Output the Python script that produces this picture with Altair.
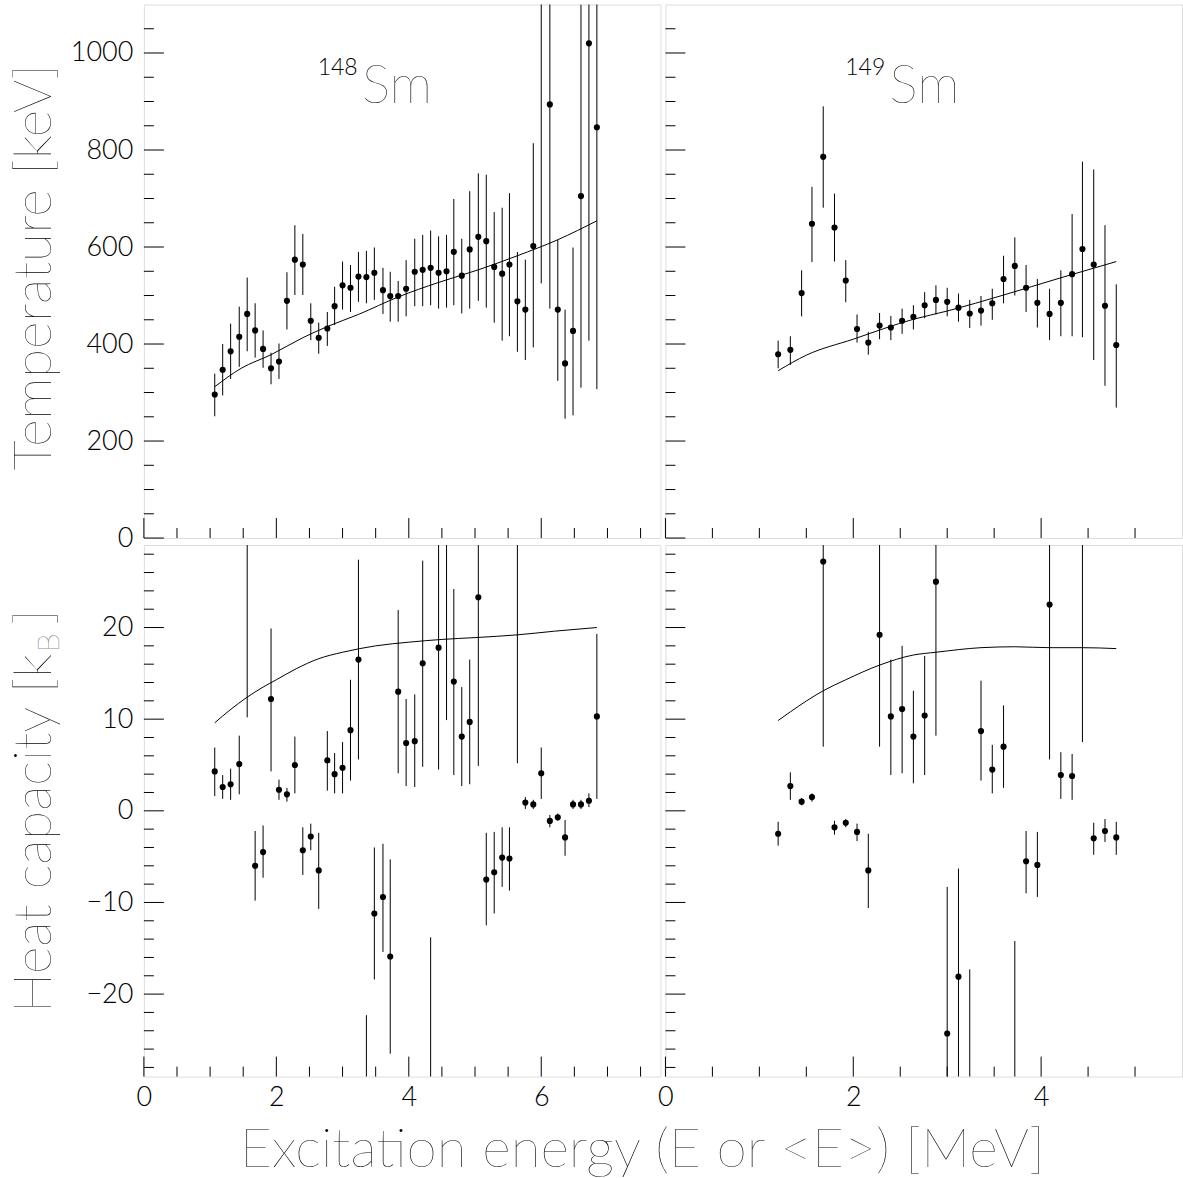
import altair as alt
import pandas as pd

FONT = "Lato"

# ---------------- data: 148Sm ----------------
E148 = [1.07, 1.19, 1.31, 1.44, 1.56, 1.68, 1.80, 1.92, 2.04, 2.16, 2.28, 2.40, 2.52, 2.64,
        2.77, 2.88, 3.00, 3.12, 3.24, 3.36, 3.48, 3.61, 3.72, 3.84, 3.96, 4.09, 4.21, 4.33,
        4.45, 4.57, 4.68, 4.80, 4.92, 5.05, 5.17, 5.29, 5.41, 5.52, 5.64, 5.76, 5.88, 6.00,
        6.13, 6.25, 6.36, 6.48, 6.60, 6.72, 6.84]
T148 = [296, 347, 385, 415, 462, 428, 390, 350, 364, 489, 574, 564, 448, 413, 432, 478, 521,
        516, 539, 538, 547, 511, 499, 499, 514, 549, 553, 557, 547, 550, 590, 541, 595, 621,
        612, 559, 545, 564, 488, 471, 602, 1200, 894, 471, 360, 427, 705, 1020, 847]
T148_LO = [251, 294, 328, 353, 385, 372, 351, 317, 328, 430, 501, 501, 408, 380, 396, 439, 471,
           466, 487, 484, 491, 462, 446, 446, 457, 478, 478, 480, 473, 475, 480, 463, 473, 489,
           475, 444, 407, 416, 384, 367, 393, 525, 473, 324, 246, 253, 310, 407, 307]
T148_HI = [339, 400, 442, 477, 537, 484, 428, 382, 401, 548, 645, 627, 484, 444, 466, 518, 570,
           563, 590, 592, 599, 557, 549, 530, 573, 617, 625, 634, 622, 625, 699, 617, 715, 752,
           749, 672, 681, 711, 590, 574, 814, 1875, 1315, 615, 471, 599, 1100, 1633, 1387]
FIT_T148_E = [1.07, 1.47, 1.92, 2.40, 2.77, 3.24, 3.84, 4.45, 5.05, 5.64, 6.25, 6.84]
FIT_T148 = [312, 350, 378, 413, 436, 461, 497, 527, 553, 582, 615, 654]

C148 = [4.3, 2.6, 2.9, 5.1, 40, -6.0, -4.5, 12.2, 2.3, 1.8, 5.0, -4.3, -2.8, -6.5, 5.5, 4.0,
        4.7, 8.8, 16.5, -45, -11.2, -9.4, -15.9, 13.0, 7.4, 7.6, 16.1, -40, 17.8, 40, 14.1,
        8.1, 9.7, 23.3, -7.5, -6.7, -5.1, -5.2, 40, 0.9, 0.7, 4.1, -1.1, -0.7, -2.9, 0.7, 0.7,
        1.1, 10.3]
C148_LO = [1.6, 1.3, 1.2, 1.8, 10.2, -9.8, -7.3, 4.3, 1.2, 1.0, 1.9, -7.0, -4.3, -10.7, 2.2,
           1.9, 1.9, 3.3, 5.6, -67.7, -18.4, -15.4, -26.5, 4.1, 2.7, 2.6, 4.8, -66.2, 4.5, 9.9,
           3.9, 2.7, 2.9, 4.9, -12.5, -11.2, -8.3, -8.7, 5.2, 0.2, 0.2, 1.3, -1.8, -1.1, -4.9,
           0.2, 0.2, 0.4, 1.3]
C148_HI = [6.9, 3.9, 4.6, 8.2, 69.8, -2.2, -1.6, 19.9, 3.4, 2.5, 8.1, -1.8, -1.4, -2.4, 8.7,
           6.3, 7.5, 14.3, 27.4, -22.3, -4.0, -3.6, -5.3, 21.9, 12.2, 12.7, 27.3, -13.8, 31.1,
           70.1, 24.2, 13.5, 16.5, 41.7, -2.4, -2.3, -1.8, -1.8, 74.8, 1.5, 1.2, 6.9, -0.45,
           -0.3, -1.0, 1.2, 1.2, 1.9, 19.3]
FIT_C148_E = [1.07, 1.30, 1.56, 1.80, 2.00, 2.30, 2.64, 3.00, 3.50, 4.00, 4.50, 5.00, 5.64,
              6.20, 6.84]
FIT_C148 = [9.6, 11.0, 12.4, 13.5, 14.3, 15.5, 16.6, 17.3, 18.0, 18.4, 18.7, 18.9, 19.2,
            19.6, 20.0]

# ---------------- data: 149Sm ----------------
E149 = [1.20, 1.33, 1.45, 1.56, 1.68, 1.80, 1.92, 2.04, 2.16, 2.28, 2.40, 2.52, 2.64, 2.76,
        2.88, 3.00, 3.12, 3.24, 3.36, 3.48, 3.60, 3.72, 3.84, 3.96, 4.09, 4.21, 4.33, 4.44,
        4.56, 4.68, 4.80]
T149 = [379, 388, 505, 648, 786, 640, 531, 431, 403, 438, 434, 448, 456, 480, 491, 487, 475,
        463, 469, 484, 534, 561, 516, 485, 462, 485, 544, 596, 564, 479, 398]
T149_LO = [350, 357, 457, 569, 681, 570, 486, 403, 378, 410, 408, 421, 430, 453, 461, 457, 446,
           433, 438, 450, 484, 500, 466, 434, 408, 416, 416, 414, 367, 314, 269]
T149_HI = [407, 416, 552, 724, 890, 710, 573, 461, 425, 464, 458, 473, 480, 507, 521, 516, 504,
           491, 499, 514, 582, 620, 563, 534, 514, 552, 668, 776, 760, 645, 523]
FIT_T149_E = [1.20, 1.50, 2.00, 2.64, 3.00, 3.60, 4.20, 4.80]
FIT_T149 = [345, 377, 410, 451, 468, 501, 536, 570]

C149 = [-2.5, 2.7, 1.0, 1.5, 27.2, -1.8, -1.3, -2.3, -6.5, 19.2, 10.3, 11.1, 8.1, 10.4, 25.0,
        -24.3, -18.1, -40, 8.7, 4.5, 7.0, -40, -5.5, -5.9, 22.5, 3.9, 3.8, 40, -3.0, -2.2, -2.9]
C149_LO = [-3.8, 1.2, 0.6, 1.0, 7.0, -2.6, -1.8, -3.3, -10.6, 7.0, 3.9, 4.1, 3.0, 3.9, 8.2,
           -40.3, -29.9, -62.7, 3.3, 1.9, 2.5, -65.8, -9.0, -9.4, 5.6, 1.3, 1.2, 7.5, -4.8, -3.4,
           -4.8]
C149_HI = [-1.2, 4.2, 1.4, 1.9, 47.4, -1.1, -0.9, -1.4, -2.5, 31.4, 16.5, 18.0, 13.1, 16.9, 41.8,
           -8.3, -6.3, -17.3, 14.2, 7.2, 11.5, -14.2, -2.2, -2.3, 39.4, 6.4, 6.2, 72.5, -1.3,
           -0.9, -1.2]
FIT_C149_E = [1.20, 1.33, 1.68, 1.92, 2.28, 2.64, 2.88, 3.36, 3.72, 4.09, 4.44, 4.80]
FIT_C149 = [9.85, 10.8, 13.1, 14.3, 15.9, 17.0, 17.3, 17.8, 17.9, 17.8, 17.8, 17.7]

# ---------------- ticks & labels ----------------
E_MAJ_L = [0, 2, 4, 6]
E_MIN_L = [0.5, 1, 1.5, 2.5, 3, 3.5, 4.5, 5, 5.5, 6.5, 7, 7.5]
E_MAJ_R = [0, 2, 4]
E_MIN_R = [0.5, 1, 1.5, 2.5, 3, 3.5, 4.5, 5]
T_MAJ = [0, 200, 400, 600, 800, 1000]
T_MIN = [50, 100, 150, 250, 300, 350, 450, 500, 550, 650, 700, 750, 850, 900, 950, 1050]
C_MAJ = [-20, -10, 0, 10, 20]
C_MIN = [-28, -26, -24, -22, -18, -16, -14, -12, -8, -6, -4, -2, 2, 4, 6, 8, 12, 14, 16, 18,
         22, 24, 26, 28]

MASS = ["148", "149"]
ELEMENT = "Sm"
Y_TITLE_TOP = "Temperature [keV]"
Y_TITLE_BOT = ["Heat capacity [k", "B", "]"]
X_TITLE = "Excitation energy (E or <E>) [MeV]"


def label_axis(values, orient):
    return alt.Axis(values=values, format="d", ticks=False, tickSize=0, domain=False,
                    grid=False, labelFont=FONT, labelFontSize=27, labelFontWeight=300,
                    labelColor="black", labelPadding=11 if orient == "left" else 8,
                    labelOverlap=False, labelFlush=False, title=None)


def txt(s, size, weight, x, y, align="left", angle=0):
    kw = dict(font=FONT, fontSize=size, fontWeight=weight, align=align,
              baseline="alphabetic", color="black")
    if angle:
        kw["angle"] = angle
    return alt.Chart(pd.DataFrame({"t": [s]})).mark_text(**kw).encode(
        x=alt.value(x), y=alt.value(y), text="t:N")


def panel(E, V, LO, HI, FE, FV, xdom, ydom, w, h, xmaj, xmin, ymaj, ymin,
          xlab, ylab, extras):
    xs = alt.Scale(domain=xdom, nice=False, zero=False)
    ys = alt.Scale(domain=ydom, nice=False, zero=False)
    xaxis = label_axis(xmaj, "bottom") if xlab else None
    yaxis = label_axis(ymaj, "left") if ylab else None

    def X(f):
        return alt.X(f, type="quantitative", scale=xs, axis=xaxis)

    def Y(f):
        return alt.Y(f, type="quantitative", scale=ys, axis=yaxis)

    pts = pd.DataFrame({"E": E, "v": V, "lo": LO, "hi": HI})
    fit = pd.DataFrame({"E": FE, "v": FV})
    bars = alt.Chart(pts).mark_rule(color="black", strokeWidth=1, clip=True).encode(
        x=X("E"), y=Y("lo"), y2="hi")
    dots = alt.Chart(pts).mark_circle(color="black", size=38, opacity=1, clip=True).encode(
        x=X("E"), y=Y("v"))
    line = alt.Chart(fit).mark_line(color="black", strokeWidth=1, interpolate="monotone",
                                    clip=True).encode(x=X("E"), y=Y("v"))
    ty1 = alt.Chart(pd.DataFrame({"t": ymaj})).mark_rule(color="black", strokeWidth=1).encode(
        y=Y("t"), x=alt.value(0), x2=alt.value(20))
    ty2 = alt.Chart(pd.DataFrame({"t": ymin})).mark_rule(color="black", strokeWidth=1).encode(
        y=Y("t"), x=alt.value(0), x2=alt.value(10))
    tx1 = alt.Chart(pd.DataFrame({"t": xmaj})).mark_rule(color="black", strokeWidth=1).encode(
        x=X("t"), y=alt.value(h), y2=alt.value(h - 20))
    tx2 = alt.Chart(pd.DataFrame({"t": xmin})).mark_rule(color="black", strokeWidth=1).encode(
        x=X("t"), y=alt.value(h), y2=alt.value(h - 10))
    return alt.layer(bars, dots, line, ty1, ty2, tx1, tx2, *extras).properties(
        width=w, height=h)


TL = panel(E148, T148, T148_LO, T148_HI, FIT_T148_E, FIT_T148, [0, 7.8], [0, 1100], 517, 534,
           E_MAJ_L, E_MIN_L, T_MAJ, T_MIN, False, True,
           [txt(ELEMENT, 54, 200, 218, 99), txt(MASS[0], 23, 300, 214, 71, align="right"),
            txt(Y_TITLE_TOP, 53, 200, -93, 263, align="center", angle=270)])

TR = panel(E149, T149, T149_LO, T149_HI, FIT_T149_E, FIT_T149, [0, 5.5], [0, 1100], 517, 534,
           E_MAJ_R, E_MIN_R, T_MAJ, T_MIN, False, False,
           [txt(ELEMENT, 54, 200, 224, 99), txt(MASS[1], 23, 300, 220, 71, align="right")])

BL = panel(E148, C148, C148_LO, C148_HI, FIT_C148_E, FIT_C148, [0, 7.8], [-29, 29], 517, 532,
           E_MAJ_L, E_MIN_L, C_MAJ, C_MIN, True, True,
           [txt(Y_TITLE_BOT[0], 53, 200, -93, 109, align="right", angle=270),
            txt(Y_TITLE_BOT[1], 30, 200, -85, 107, align="left", angle=270),
            txt(Y_TITLE_BOT[2], 53, 200, -93, 80, align="left", angle=270),
            txt(X_TITLE, 55, 200, 499, 622, align="center")])

BR = panel(E149, C149, C149_LO, C149_HI, FIT_C149_E, FIT_C149, [0, 5.5], [-29, 29], 517, 532,
           E_MAJ_R, E_MIN_R, C_MAJ, C_MIN, True, False, [])

chart = alt.concat(TL, TR, BL, BR, columns=2, spacing={"row": 7, "column": 5},
                   bounds="flush", align="each").properties(
    padding={"left": 8, "top": 3, "right": 0, "bottom": 0},
    background="white",
).configure_view(stroke="black", strokeWidth=1).configure(font=FONT)

chart.save("out.html", embed_options={"renderer": "svg", "actions": False})
